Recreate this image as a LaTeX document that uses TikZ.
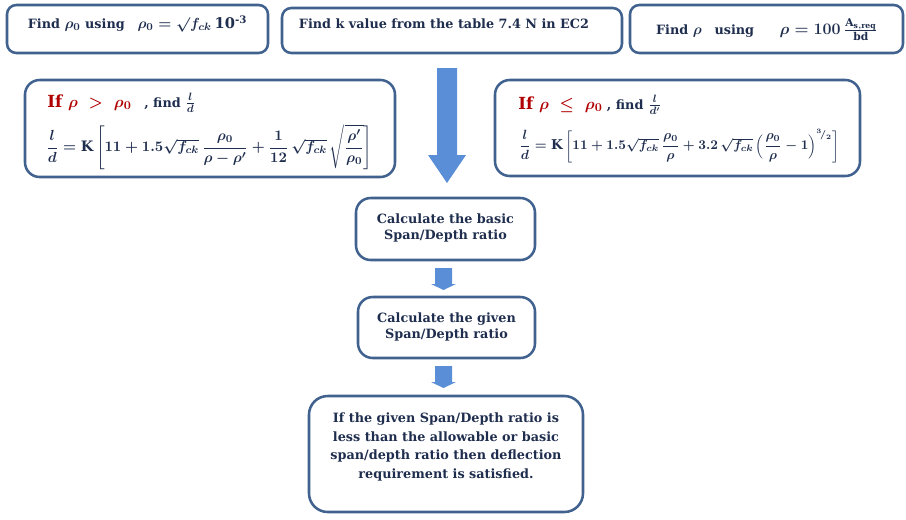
\documentclass[tikz,border=0pt]{standalone}
\usepackage{amsmath}
\usepackage{fontspec}
\setmainfont{DejaVu Serif}
\definecolor{navy}{HTML}{1F2E4E}
\definecolor{edge}{HTML}{41628F}
\definecolor{arrowc}{HTML}{5A8ED6}
\definecolor{redc}{HTML}{B00000}
\newcommand\myFormA{$\dfrac{l}{d} = \mathrm{K}\left[11 + 1.5\sqrt{f_{ck}}\,\dfrac{\rho_0}{\rho-\rho^{\prime}} + \dfrac{1}{12}\,\sqrt{f_{ck}}\,\sqrt{\dfrac{\rho^{\prime}}{\rho_0}}\right]$}
\newcommand\myFormB{$\dfrac{l}{d} = \mathrm{K}\left[11 + 1.5\sqrt{f_{ck}}\,\dfrac{\rho_0}{\rho} + 3.2\,\sqrt{f_{ck}}\,\Bigl(\dfrac{\rho_0}{\rho} - 1\Bigr)^{{}^{3}\!/_{2}}\right]$}
\tikzset{
  box/.style={draw=edge, line width=1.9pt, rounded corners=7pt, fill=white, inner sep=0pt},
  bigbox/.style={box, rounded corners=11pt},
  txt/.style={text=navy, font=\fontsize{9.6}{12}\selectfont\bfseries\boldmath, inner sep=0pt, align=center},
  formula/.style={txt, font=\fontsize{10.8}{12}\selectfont\bfseries\boldmath},
  formulab/.style={txt, font=\fontsize{10.1}{12}\selectfont\bfseries\boldmath},
  blockarrow/.style={fill=arrowc, draw=none}
}
\begin{document}
\begin{tikzpicture}[x=0.75pt,y=-0.75pt]
\useasboundingbox (0,0) rectangle (906,519);
% boxes
\node[box, minimum width=261*0.75pt, minimum height=48*0.75pt] (b1) at (137.5,29) {};
\node[box, minimum width=340*0.75pt, minimum height=45*0.75pt] (b2) at (452,30.5) {};
\node[box, minimum width=273*0.75pt, minimum height=48*0.75pt] (b3) at (766.5,29) {};
\node[bigbox, minimum width=370*0.75pt, minimum height=97*0.75pt] (b4) at (210,128.5) {};
\node[bigbox, minimum width=365*0.75pt, minimum height=96*0.75pt] (b5) at (677.5,128) {};
\node[bigbox, minimum width=179*0.75pt, minimum height=62*0.75pt] (b6) at (445.5,229) {};
\node[bigbox, minimum width=177*0.75pt, minimum height=61*0.75pt] (b7) at (446.5,327.5) {};
\node[bigbox, rounded corners=14pt, minimum width=274*0.75pt, minimum height=116*0.75pt] (b8) at (446,454) {};
% texts
\node[txt] (t1) at (137.5,24) {Find {\fontsize{11}{12}\selectfont$\rho_0$} using\quad {\fontsize{11}{12}\selectfont$\rho_0 = \surd f_{ck}\,$10$^{\text{-3}}$}};
\node[txt] (t2) at (444,24) {Find k value from the table 7.4 N in EC2};
\node[txt] (t3) at (767,30) {Find {\fontsize{11}{12}\selectfont$\rho$}\quad using\qquad {\fontsize{11.5}{12}\selectfont$\rho = 100\,\frac{\mathrm{A_{s,req}}}{\mathrm{bd}}$}};
\node[txt, anchor=west] (t4a) at (47,103) {{\color{redc}\fontsize{12.5}{14}\selectfont If $\rho\ >\ \rho_0$}\quad , find {\fontsize{11}{12}\selectfont$\frac{l}{d}$}};
\node[formula, anchor=west] (t4b) at (46,147) {\myFormA};
\node[txt, anchor=west] (t5a) at (518,105) {{\color{redc}\fontsize{12.5}{14}\selectfont If $\rho\ \leq\ \rho_0$}\ , find {\fontsize{11}{12}\selectfont$\frac{l}{d^{\prime}}$}};
\node[formulab, anchor=west] (t5b) at (519,146) {\myFormB};
\node[txt] (t6) at (445.5,228) {Calculate the basic\\Span/Depth ratio};
\node[txt] (t7) at (446.5,327) {Calculate the given\\Span/Depth ratio};
\node[txt, font=\fontsize{9.6}{13.9}\selectfont\bfseries] (t8) at (446,447) {If the given Span/Depth ratio is\\less than the allowable or basic\\span/depth ratio then deflection\\requirement is satisfied.};
% block arrows
\fill[blockarrow] (437,68) -- (457,68) -- (457,155) -- (466,155) -- (447,183) -- (428,155) -- (437,155) -- cycle;
\fill[blockarrow] (435,268) -- (452,268) -- (452,284) -- (456,284) -- (443.5,290) -- (431,284) -- (435,284) -- cycle;
\fill[blockarrow] (435,366) -- (452,366) -- (452,382) -- (456,382) -- (443.5,388) -- (431,382) -- (435,382) -- cycle;
\end{tikzpicture}
\end{document}
